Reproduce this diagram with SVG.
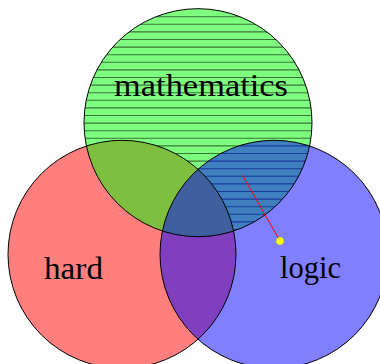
<svg xmlns="http://www.w3.org/2000/svg" width="380" height="364" viewBox="0 0 380 364">
  <style>
    .fill { stroke: none; }
    .outline { fill: none; stroke: #000; stroke-width: 1; }
    .hatch line { stroke: #000; stroke-opacity: 0.55; stroke-width: 1.1; }
    .label { font-family: "Liberation Serif", "Times New Roman", serif; font-size: 32px; fill: #000; }
  </style>
  <defs>
    <mask id="greenMinusRed" maskUnits="userSpaceOnUse" x="0" y="0" width="380" height="364">
      <circle cx="198" cy="122.7" r="114" fill="#fff"/>
      <circle cx="122" cy="254.3" r="114" fill="#000"/>
    </mask>
  </defs>

  <g id="hard">
    <circle class="fill" cx="122" cy="254.3" r="114" fill="#ff0000" fill-opacity="0.5"/>
  </g>
  <g id="mathematics">
    <circle class="fill" cx="198" cy="122.7" r="114" fill="#00ff00" fill-opacity="0.5"/>
    <g class="hatch" mask="url(#greenMinusRed)">
      <line x1="80" x2="320" y1="16.7" y2="16.7"/>
      <line x1="80" x2="320" y1="24.3" y2="24.3"/>
      <line x1="80" x2="320" y1="31.9" y2="31.9"/>
      <line x1="80" x2="320" y1="39.5" y2="39.5"/>
      <line x1="80" x2="320" y1="47.1" y2="47.1"/>
      <line x1="80" x2="320" y1="54.7" y2="54.7"/>
      <line x1="80" x2="320" y1="62.3" y2="62.3"/>
      <line x1="80" x2="320" y1="69.9" y2="69.9"/>
      <line x1="80" x2="320" y1="77.5" y2="77.5"/>
      <line x1="80" x2="320" y1="85.1" y2="85.1"/>
      <line x1="80" x2="320" y1="92.7" y2="92.7"/>
      <line x1="80" x2="320" y1="100.3" y2="100.3"/>
      <line x1="80" x2="320" y1="107.9" y2="107.9"/>
      <line x1="80" x2="320" y1="115.5" y2="115.5"/>
      <line x1="80" x2="320" y1="123.1" y2="123.1"/>
      <line x1="80" x2="320" y1="130.7" y2="130.7"/>
      <line x1="80" x2="320" y1="138.3" y2="138.3"/>
      <line x1="80" x2="320" y1="145.9" y2="145.9"/>
      <line x1="80" x2="320" y1="153.5" y2="153.5"/>
      <line x1="80" x2="320" y1="161.1" y2="161.1"/>
      <line x1="80" x2="320" y1="168.7" y2="168.7"/>
      <line x1="80" x2="320" y1="176.3" y2="176.3"/>
      <line x1="80" x2="320" y1="183.9" y2="183.9"/>
      <line x1="80" x2="320" y1="191.5" y2="191.5"/>
      <line x1="80" x2="320" y1="199.1" y2="199.1"/>
      <line x1="80" x2="320" y1="206.7" y2="206.7"/>
      <line x1="80" x2="320" y1="214.3" y2="214.3"/>
      <line x1="80" x2="320" y1="221.9" y2="221.9"/>
      <line x1="80" x2="320" y1="229.5" y2="229.5"/>
    </g>
  </g>
  <g id="logic">
    <circle class="fill" cx="274" cy="254.3" r="114" fill="#0000ff" fill-opacity="0.5"/>
  </g>

  <g id="outlines">
    <circle class="outline" cx="122" cy="254.3" r="114"/>
    <circle class="outline" cx="198" cy="122.7" r="114"/>
    <circle class="outline" cx="274" cy="254.3" r="114"/>
  </g>

  <g id="connectors">
    <line x1="242.3" y1="175" x2="280" y2="241" stroke="#ff0000" stroke-width="1"/>
    <circle cx="280" cy="241" r="3.8" fill="#ffff00"/>
  </g>

  <g id="labels">
    <text class="label" x="114" y="95.5" textLength="174" lengthAdjust="spacingAndGlyphs">mathematics</text>
    <text class="label" x="44" y="279" textLength="59" lengthAdjust="spacingAndGlyphs">hard</text>
    <text class="label" x="280" y="277.5" textLength="61" lengthAdjust="spacingAndGlyphs">logic</text>
  </g>
</svg>
